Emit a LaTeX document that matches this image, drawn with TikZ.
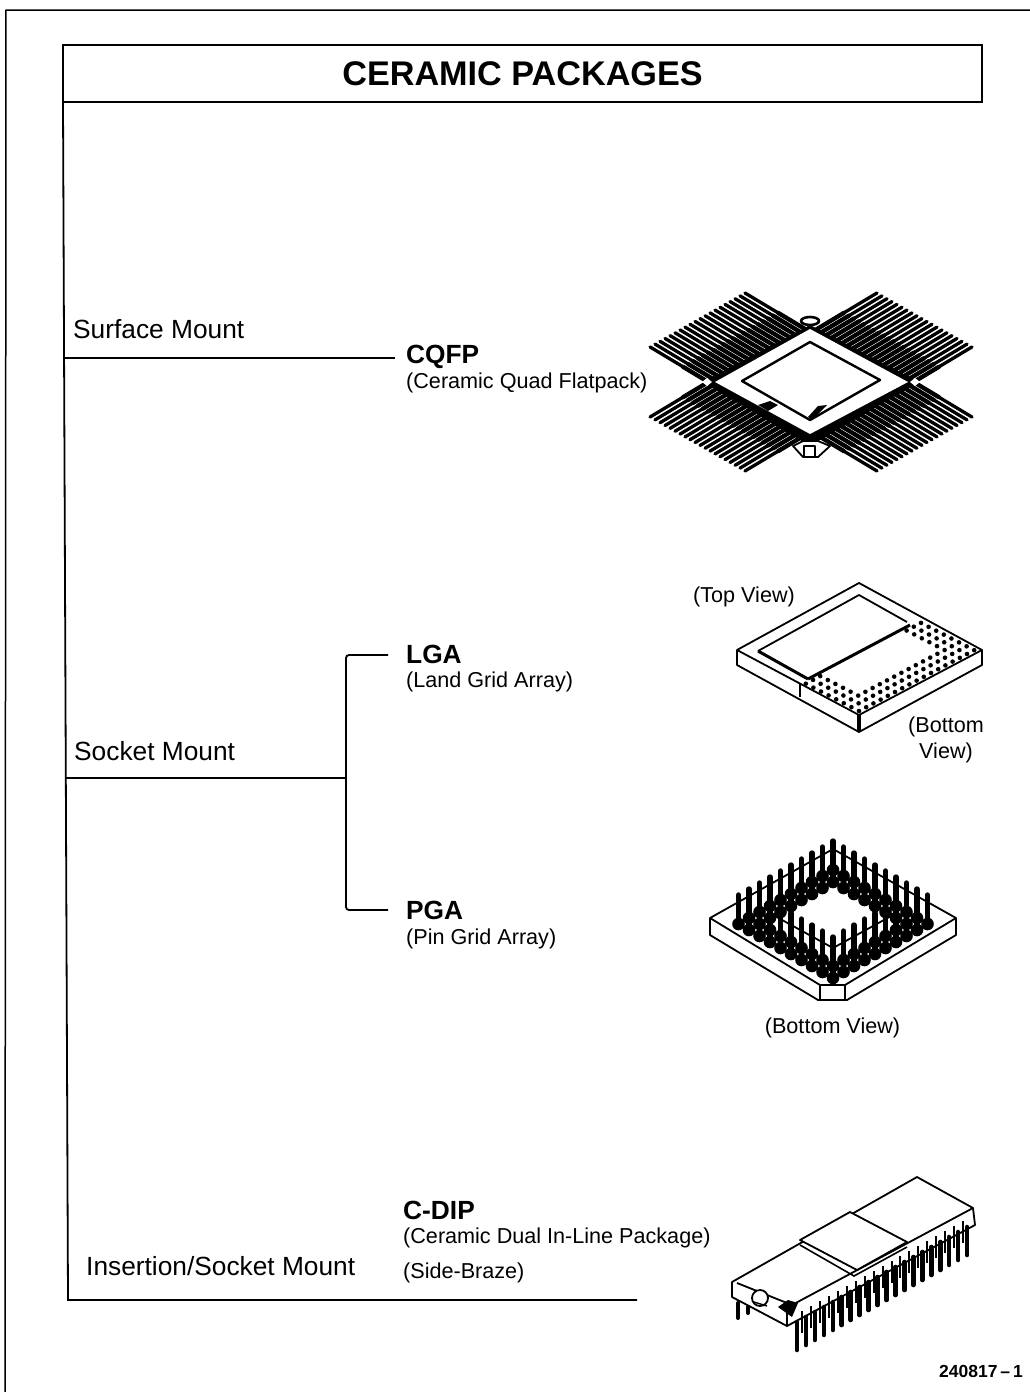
\documentclass[tikz,border=0pt]{standalone}
\usepackage{fontspec}
\setmainfont{Liberation Sans}
\usetikzlibrary{positioning}

\begin{document}
\begin{tikzpicture}[
  x=1pt,y=-1pt,
  titlebox/.style={rectangle,draw=black,line width=2pt,outer sep=0pt,minimum width=919pt,
    minimum height=57pt,font=\fontsize{34.2}{38}\selectfont\bfseries,align=center},
  conn/.style={draw=black,line width=1.8pt},
  mountlbl/.style={anchor=base west,inner sep=0pt,font=\fontsize{26.3}{30}\selectfont},
  pkglbl/.style={anchor=base west,inner sep=0pt,font=\fontsize{26.3}{30}\selectfont\bfseries},
  sublbl/.style={anchor=base west,inner sep=0pt,font=\fontsize{21.6}{25}\selectfont},
  viewlbl/.style={anchor=base,inner sep=0pt,align=center,font=\fontsize{21.6}{25}\selectfont},
  figlbl/.style={anchor=base east,inner sep=0pt,font=\fontsize{17.5}{20}\selectfont\bfseries},
  outl/.style={draw=black,line width=1.8pt,fill=white,line join=round},
  lead/.style={draw=black,line width=3.3pt,line cap=round},
  pin/.style={draw=black,line width=5.4pt,line cap=round}
]
  \useasboundingbox (0,0) rectangle (1030,1392);
  \draw[conn,line width=1.5pt] (1030,10) -- (6,10) -- (5,1392);

  \node[titlebox] (title) at (522.5,73.5) {CERAMIC PACKAGES};

  \node[mountlbl] (surface) at (73,338) {Surface Mount};
  \node[mountlbl] (socket) at (74,760) {Socket Mount};
  \node[mountlbl] (insert) at (86,1275) {Insertion/Socket Mount};

  \node[pkglbl] (cqfp) at (406,363) {CQFP};
  \node[sublbl,below=25pt of cqfp.base west,anchor=base west] (cqfpsub) {(Ceramic Quad Flatpack)};
  \node[pkglbl] (lga) at (406,663) {LGA};
  \node[sublbl,below=24pt of lga.base west,anchor=base west] (lgasub) {(Land Grid Array)};
  \node[pkglbl] (pga) at (406,919) {PGA};
  \node[sublbl,below=25pt of pga.base west,anchor=base west] (pgasub) {(Pin Grid Array)};
  \node[pkglbl] (cdip) at (403,1219) {C-DIP};
  \node[sublbl,below=24pt of cdip.base west,anchor=base west] (cdipsub) {(Ceramic Dual In-Line Package)};
  \node[sublbl,below=35pt of cdipsub.base west,anchor=base west] (braze) {(Side-Braze)};

  \node[viewlbl] (topview) at (744,602) {(Top View)};
  \node[viewlbl] (botview) at (946,758) {(Bottom\\[1pt]View)};
  \node[viewlbl] (pgaview) at (832.5,1033) {(Bottom View)};
  \node[figlbl] (fignum) at (1023,1377) {240817\,--\,1};

  \coordinate (trunkend) at (68,1300);
  \coordinate (surfroot) at (64,358);
  \coordinate (surfend) at (395,358);
  \coordinate (sockroot) at (66,778);
  \coordinate (sockfork) at (346,778);
  \coordinate (lgaend) at (388,655);
  \coordinate (pgaend) at (388,910);
  \coordinate (dipend) at (637,1300);

  \draw[conn] (title.south west) -- (trunkend) -- (dipend);
  \draw[conn] (surfroot) -- (surfend);
  \draw[conn] (sockroot) -- (sockfork);
  \draw[conn,rounded corners=3pt] (lgaend) -| (sockfork |- pgaend) -- (pgaend);

  % CQFP
  \foreach \sx in {-1,1}
    \foreach \sy in {-1,1}
      \foreach \i in {0,...,19} {
        \draw[lead] ({811+\sx*(66+5*\i)},{382+\sy*(89-2.84*\i)}) -- ({811+\sx*(5*\i)},{382+\sy*(49.4-2.84*\i)});
        \draw[lead,line width=4.3pt] ({811+\sx*(33+5*\i)},{382+\sy*(69.2-2.84*\i)}) -- ({811+\sx*(5*\i)},{382+\sy*(49.4-2.84*\i)});
      }
  \fill[black] (703,382) -- (810,325) -- (919,382) -- (810,446) -- cycle;
  \draw[outl,line width=2.6pt] (810,321) ellipse (9 and 4);
  \draw[outl] (793,446) -- (803,457) -- (818,457) -- (830,446) -- (818,441) -- (803,441) -- cycle;
  \draw[outl] (804,446) rectangle (815,457);
  \fill[white] (702,382) -- (707,378) -- (712,382) -- (707,386) -- cycle;
  \fill[white] (920,382) -- (915,378) -- (910,382) -- (915,386) -- cycle;
  \fill[white] (715,382) -- (810,329) -- (908,382) -- (810,434) -- cycle;
  \draw[outl,line width=2.4pt] (742,381) -- (810,342) -- (880,380) -- (810,420) -- cycle;
  \fill[black] (758,405) -- (770,401) -- (778,405) -- (768,411) -- cycle;
  \fill[black] (808,417) -- (818,406) -- (827,405) -- (812,420) -- cycle;

  % LGA
  \draw[outl] (737,650) -- (859,583) -- (982,650) -- (982,665) -- (859,732) -- (737,665) -- cycle;
  \draw[outl] (737,650) -- (859,715) -- (982,650);
  \draw[draw=black,line width=1.8pt] (800,684) -- (800,697);
  \draw[draw=black,line width=3.6pt] (859,715) -- (859,732);
  \draw[draw=black,line width=1.8pt,line join=round] (758,651) -- (859,595) -- (907,622);
  \draw[draw=black,line width=3pt] (758,651) -- (808,679);
  \draw[draw=black,line width=3pt] (808,679) -- (910,625);
  \foreach \i in {0,...,16}
    \foreach \j in {0,...,7} {
      \ifnum\i<3 \fill[black] ({859+\i*7.2-\j*7.6},{711-\i*3.8-\j*3.9}) circle (2.3);
      \else\ifnum\j<3 \fill[black] ({859+\i*7.2-\j*7.6},{711-\i*3.8-\j*3.9}) circle (2.3);
      \else\ifnum\i>13 \fill[black] ({859+\i*7.2-\j*7.6},{711-\i*3.8-\j*3.9}) circle (2.3);
      \fi\fi\fi
    }

  % PGA
  \draw[outl] (710,918) -- (833,849) -- (956,918) -- (956,935) -- (847,1000) -- (818,1000) -- (710,935) -- cycle;
  \draw[outl] (710,918) -- (820,985) -- (845,985) -- (956,918);
  \draw[outl] (820,985) -- (820,1000);
  \draw[outl] (845,985) -- (845,1000);
  \draw[outl] (773,915) -- (833,883) -- (893,915) -- (833,948) -- cycle;
  \foreach \s in {0,...,18}
    \foreach \i in {0,...,9} {
      \pgfmathtruncatemacro{\j}{\s-\i}
      \pgfmathtruncatemacro{\keep}{(\j>=0 && \j<=9 && (\i<=1 || \j<=1 || \i>=8 || \j>=8)) ? 1 : 0}
      \ifnum\keep=1
        \fill[black] ({833+(\i-\j)*10.5},{870+(\i+\j)*6}) circle (6.3);
        \draw[pin] ({833+(\i-\j)*10.5},{870+(\i+\j)*6}) -- ({833+(\i-\j)*10.5},{841+(\i+\j)*6});
      \fi
    }

  % C-DIP
  \draw[outl] (732,1282) -- (917,1177) -- (973,1208) -- (975,1225) -- (787,1326) -- (732,1297) -- cycle;
  \draw[outl] (737,1283) -- (792,1305) -- (973,1208);
  \draw[draw=black,line width=1.8pt] (787,1310) -- (787,1326);
  \draw[outl] (800,1240) -- (850,1212) -- (907,1242) -- (857,1270) -- cycle;
  \draw[draw=black,line width=1.6pt] (800,1245) -- (854,1276) -- (907,1247);
  \draw[outl] (760,1298) circle (8);
  \draw[draw=black,line width=1.4pt] (754,1302) -- (767,1306);
  \fill[black] (778,1307) -- (788,1300) -- (798,1303) -- (792,1317) -- cycle;
  \foreach \i in {0,...,19}
    \draw[pin,line width=4.6pt] ({797+\i*8.95},{1322-\i*5}) -- ({797+\i*8.95},{1350-\i*5});
  \foreach \i in {0,...,18}
    \draw[draw=black,line width=2pt] ({802+\i*8.95},{1311-\i*5}) -- ({802+\i*8.95},{1333-\i*5});
  \draw[pin,line width=4pt] (738,1303) -- (738,1318);
  \draw[pin,line width=4pt] (748,1307) -- (748,1313);
\end{tikzpicture}
\end{document}
